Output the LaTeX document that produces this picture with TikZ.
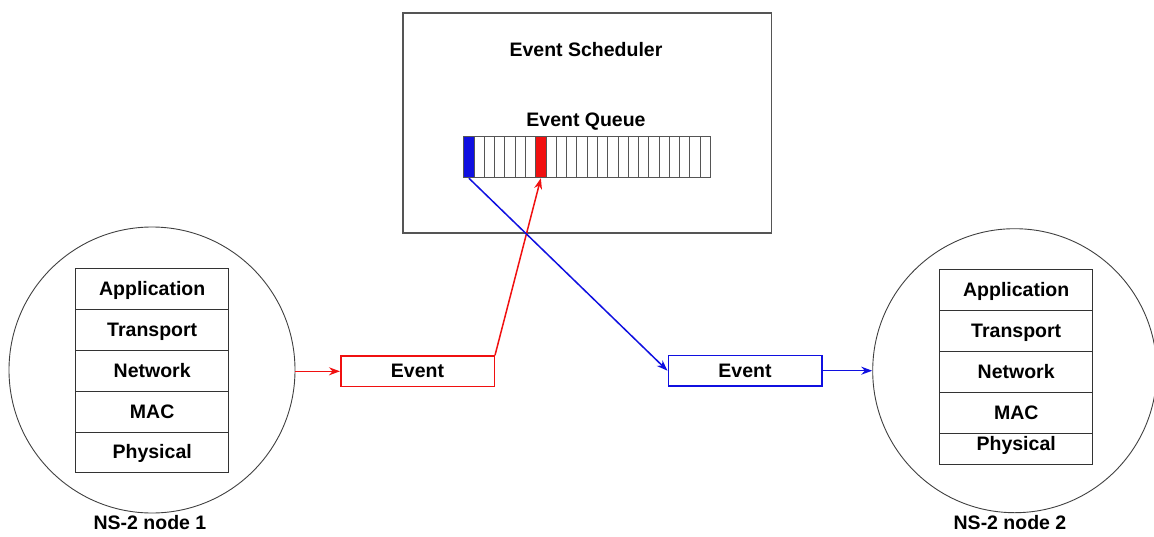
\documentclass[tikz,border=0pt]{standalone}
\usepackage{fontspec}
\setmainfont{Liberation Sans}
\usetikzlibrary{arrows.meta}
\definecolor{edgegray}{HTML}{555555}
\definecolor{evred}{HTML}{F01010}
\definecolor{evblue}{HTML}{1010E0}
\begin{document}
\begin{tikzpicture}[x=1pt,y=-1pt,
  lbl/.style={font=\fontsize{19.5}{22}\selectfont\bfseries,text height=14pt,text depth=1pt},
  layer/.style={lbl,draw=black!80,fill=white,line width=1.1pt,minimum width=153.3pt,
    minimum height=40.8pt,inner sep=0pt,anchor=north west},
  qcell/.style={draw=edgegray,line width=0.9pt,minimum width=10.28pt,minimum height=41.6pt,
    inner sep=0pt,anchor=north west},
  host/.style={circle,draw=black!75,line width=0.9pt,inner sep=0pt},
  evbox/.style={lbl,line width=1.5pt,minimum width=153.5pt,minimum height=30.5pt,inner sep=0pt},
  tip/.style={-{Stealth[length=11pt,width=8pt]},line width=1.5pt}
]
\useasboundingbox (0,0) rectangle (1154,536);

% scheduler frame and its labels
\node[draw=edgegray,line width=1.6pt,minimum width=368.4pt,minimum height=220pt,
  inner sep=0pt,anchor=north west] (sched) at (402.3,12.3) {};
\node[lbl] (schedtxt) at (586,50) {Event Scheduler};
\node[lbl] (queuetxt) at (586,120) {Event Queue};

% event queue slots
\foreach \i in {0,...,23} {
  \node[qcell] (cell\i) at ({463.3+\i*10.28},135.7) {};
}
\node[qcell,fill=evblue] (cellB) at (463.3,135.7) {};
\node[qcell,fill=evred] (cellR) at ({463.3+7*10.28},135.7) {};

% NS-2 node 1
\node[host,minimum size=286pt] (hostA) at (152,370) {};
\node[layer] (appA) at (75,268.3) {Application};
\node[layer] (trA) at (75,309.1) {Transport};
\node[layer] (netA) at (75,349.9) {Network};
\node[layer] (macA) at (75,390.7) {MAC};
\node[layer] (phyA) at (75,431.5) {Physical};
\node[lbl] (hostAtxt) at (150,523) {NS-2 node 1};

% NS-2 node 2
\node[host,minimum size=284pt] (hostB) at (1014.7,370.7) {};
\node[layer] (phyB) at (939,423.3) {Physical};
\node[layer] (appB) at (939,269) {Application};
\node[layer] (trB) at (939,310) {Transport};
\node[layer] (netB) at (939,351) {Network};
\node[layer] (macB) at (939,391.8) {MAC};
\node[lbl] (hostBtxt) at (1010,523) {NS-2 node 2};

% events in transit
\node[evbox,draw=evred] (evR) at (417.5,371.3) {Event};
\node[evbox,draw=evblue] (evB) at (745,370.7) {Event};

% scheduling an event
\draw[tip,draw=evred,fill=evred] (hostA.east |- evR.west) -- (evR.west);
\draw[tip,draw=evred,fill=evred] (evR.north east) -- (cellR.south);

% dispatching the head event
\draw[tip,draw=evblue,fill=evblue] (cellB.south) -- (evB.west);
\draw[tip,draw=evblue,fill=evblue] (evB.east) -- (hostB.west);
\end{tikzpicture}
\end{document}
